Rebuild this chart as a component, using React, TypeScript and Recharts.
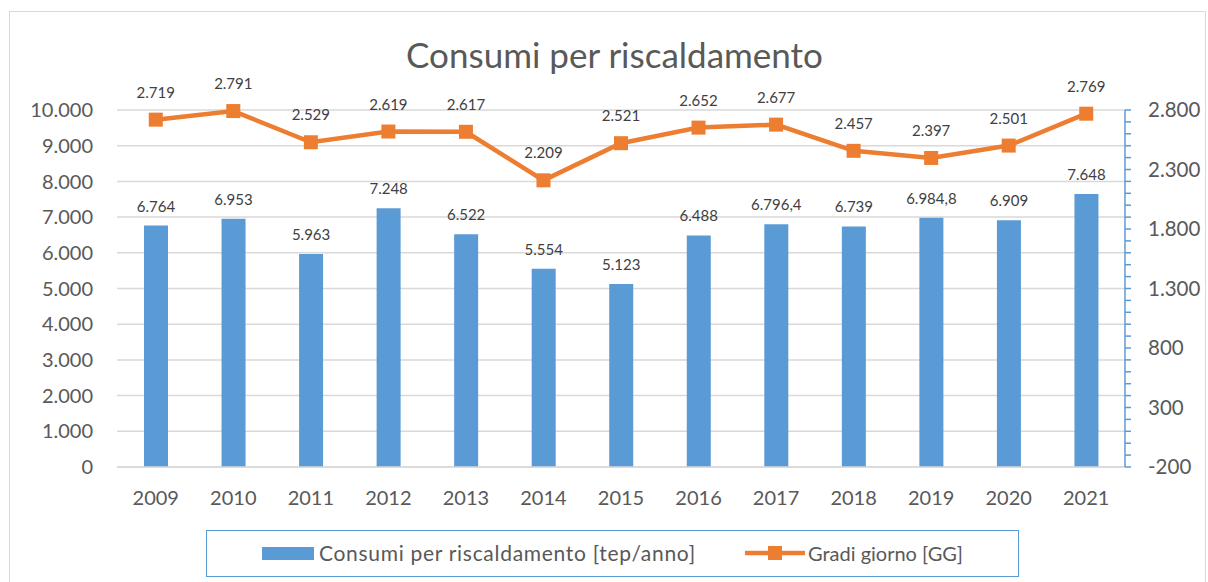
import React from "react"
import {
  ComposedChart,
  Bar,
  Line,
  XAxis,
  YAxis,
  CartesianGrid,
  LabelList,
} from "recharts"

const anni = ["2009", "2010", "2011", "2012", "2013", "2014", "2015", "2016", "2017", "2018", "2019", "2020", "2021"]
const consumi = [6764, 6953, 5963, 7248, 6522, 5554, 5123, 6488, 6796.4, 6739, 6984.8, 6909, 7648]
const gradiGiorno = [2719, 2791, 2529, 2619, 2617, 2209, 2521, 2652, 2677, 2457, 2397, 2501, 2769]

const ticksSinistra = [0, 1000, 2000, 3000, 4000, 5000, 6000, 7000, 8000, 9000, 10000]
const ticksDestra = [
  -200, -100, 0, 100, 200, 300, 400, 500, 600, 700, 800, 900, 1000, 1100, 1200, 1300,
  1400, 1500, 1600, 1700, 1800, 1900, 2000, 2100, 2200, 2300, 2400, 2500, 2600, 2700, 2800,
]
const ticksDestraPrincipali = [-200, 300, 800, 1300, 1800, 2300, 2800]

const BLU = "#5B9BD5"
const ARANCIO = "#ED7D31"
const GRIGIO = "#595959"
const FONT = "Lato, sans-serif"

const data = anni.map((anno, i) => ({
  anno,
  consumi: consumi[i],
  gg: gradiGiorno[i],
}))

// formato italiano: 6.796,4
function fmt(v: number | string) {
  const n = Number(v)
  const neg = n < 0
  const [int, dec] = Math.abs(n).toString().split(".")
  const grouped = int.replace(/\B(?=(\d{3})+(?!\d))/g, ".")
  return (neg ? "-" : "") + grouped + (dec ? "," + dec : "")
}

const RightTick = (props: any) => {
  const { x, y, payload } = props
  if (!ticksDestraPrincipali.includes(payload.value)) return null
  return (
    <text x={x} y={y} dy={7} textAnchor="start" fill={GRIGIO} fontSize={20.5} fontFamily={FONT}>
      {fmt(payload.value)}
    </text>
  )
}

const SquareDot = (props: any) => {
  const { cx, cy, index } = props
  if (cx == null || cy == null) return null
  return <rect key={`dot-${index}`} x={cx - 7} y={cy - 7} width={14} height={14} fill={ARANCIO} />
}

export default function App() {
  return (
    <div
      style={{
        position: "fixed",
        left: 0,
        top: 0,
        width: 1208,
        height: 582,
        background: "white",
        overflow: "hidden",
        fontFamily: FONT,
      }}
    >
      <div
        style={{
          position: "absolute",
          left: 9,
          top: 11,
          width: 1195,
          height: 600,
          border: "1px solid #d9d9d9",
        }}
      />
      <div
        style={{
          position: "absolute",
          left: 0,
          width: 1229,
          top: 34,
          textAlign: "center",
          fontSize: 35,
          color: GRIGIO,
          lineHeight: "40px",
        }}
      >
        Consumi per riscaldamento
      </div>

      <div style={{ position: "absolute", left: 0, top: 0 }}>
        <ComposedChart
          width={1208}
          height={520}
          data={data}
          margin={{ top: 110, right: 0, left: 0, bottom: 0 }}
        >
          <CartesianGrid yAxisId="left" vertical={false} stroke="#d9d9d9" strokeWidth={1.5} />
          <XAxis
            dataKey="anno"
            height={53}
            tickLine={false}
            axisLine={{ stroke: "#d9d9d9", strokeWidth: 1.5 }}
            tickMargin={18}
            tick={{ fill: GRIGIO, fontSize: 20, fontFamily: FONT }}
          />
          <YAxis
            yAxisId="left"
            width={117}
            domain={[0, 10000]}
            ticks={ticksSinistra}
            interval={0}
            axisLine={false}
            tickLine={false}
            tickMargin={18}
            tickFormatter={fmt}
            tick={{ fill: GRIGIO, fontSize: 20, fontFamily: FONT }}
          />
          <YAxis
            yAxisId="right"
            orientation="right"
            width={83}
            domain={[-200, 2800]}
            ticks={ticksDestra}
            interval={0}
            axisLine={{ stroke: BLU, strokeWidth: 1.5 }}
            tickLine={{ stroke: BLU, strokeWidth: 1.5 }}
            tickSize={6}
            tickMargin={17}
            tick={<RightTick />}
          />
          <Bar yAxisId="left" dataKey="consumi" fill={BLU} barSize={24} isAnimationActive={false}>
            <LabelList
              dataKey="consumi"
              position="top"
              offset={14}
              formatter={fmt}
              fill="#404040"
              fontSize={15}
              fontFamily={FONT}
            />
          </Bar>
          <Line
            yAxisId="right"
            dataKey="gg"
            stroke={ARANCIO}
            strokeWidth={4.5}
            dot={<SquareDot />}
            activeDot={false}
            isAnimationActive={false}
          >
            <LabelList
              dataKey="gg"
              position="top"
              offset={22}
              formatter={fmt}
              fill="#404040"
              fontSize={15}
              fontFamily={FONT}
            />
          </Line>
        </ComposedChart>
      </div>

      <div
        style={{
          position: "absolute",
          left: 206,
          top: 530,
          width: 811,
          height: 45,
          border: `1.5px solid ${BLU}`,
        }}
      >
        <div style={{ position: "absolute", left: 55, top: 16, width: 52, height: 13, background: BLU }} />
        <div
          style={{
            position: "absolute",
            left: 112,
            top: 9,
            fontSize: 21,
            letterSpacing: 0.7,
            color: GRIGIO,
            lineHeight: "26px",
            whiteSpace: "nowrap",
          }}
        >
          Consumi per riscaldamento [tep/anno]
        </div>
        <svg style={{ position: "absolute", left: 538, top: 12 }} width={60} height={20}>
          <line x1={1} y1={10} x2={59} y2={10} stroke={ARANCIO} strokeWidth={4.5} strokeLinecap="round" />
          <rect x={23} y={3} width={14} height={14} fill={ARANCIO} />
        </svg>
        <div
          style={{
            position: "absolute",
            left: 601,
            top: 9,
            fontSize: 20,
            color: GRIGIO,
            lineHeight: "26px",
            whiteSpace: "nowrap",
          }}
        >
          Gradi giorno [GG]
        </div>
      </div>
    </div>
  )
}
